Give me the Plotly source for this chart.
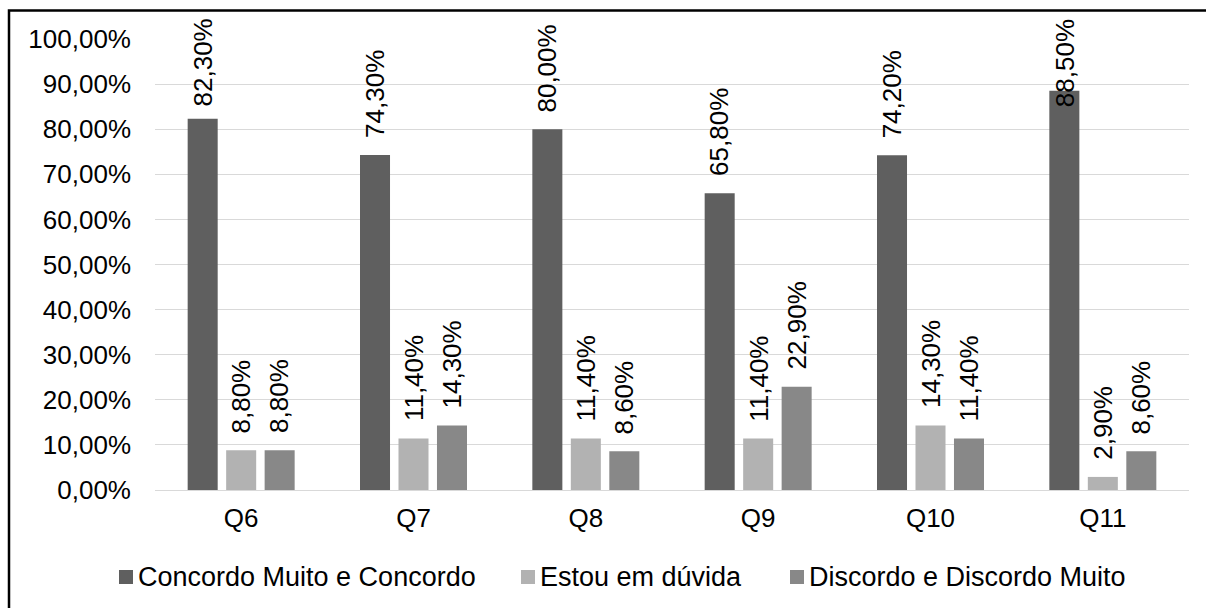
import plotly.graph_objects as go

# ---- data ----
categories = ["Q6", "Q7", "Q8", "Q9", "Q10", "Q11"]
series_names = ["Concordo Muito e Concordo", "Estou em dúvida", "Discordo e Discordo Muito"]
concordo = [82.3, 74.3, 80.0, 65.8, 74.2, 88.5]
duvida = [8.8, 11.4, 11.4, 11.4, 14.3, 2.9]
discordo = [8.8, 14.3, 8.6, 22.9, 11.4, 8.6]
y_ticks = [0, 10, 20, 30, 40, 50, 60, 70, 80, 90, 100]


def pct(v):
    return f"{v:.2f}".replace(".", ",") + "%"


# ---- style / layout ----
COLORS = ["#5f5f5f", "#b2b2b2", "#888888"]
W, H = 1206, 608
ML, MR, MT, MB = 155, 17, 39, 118
PLOT_W = W - ML - MR
PLOT_H = H - MT - MB
BARGAP = 0.33
BARGROUPGAP = 0.22
FONT = "Arial, Liberation Sans, sans-serif"
FS = 26
LEG_FS = 27
LABEL_CAP = 81.2  # labels are kept inside the chart frame
LABEL_GAP = 15
LEG_Y = 577            # legend row centre (px from top)
LEG_SQ = 14            # legend swatch size (px)
LEG_SWATCH_X = [119, 521, 790]  # legend swatch left edges (px)
LEG_TEXT_GAP = 4

series = [concordo, duvida, discordo]


def px_x(p):
    return (p - ML) / PLOT_W


def px_y(p):
    return (H - MB - p) / PLOT_H


fig = go.Figure()
for name, vals, col in zip(series_names, series, COLORS):
    fig.add_trace(go.Bar(x=categories, y=vals, name=name, marker_color=col,
                         marker_line_width=0, showlegend=False))

slot_px = PLOT_W / len(categories) * (1 - BARGAP) / len(series)
annotations = []
for k, vals in enumerate(series):
    off = (k - (len(series) - 1) / 2) * slot_px
    for c, v in zip(categories, vals):
        annotations.append(dict(
            x=c, y=min(v, LABEL_CAP), xref="x", yref="y",
            text=pct(v),
            showarrow=False, textangle=-90, yanchor="bottom", xanchor="center",
            xshift=off, yshift=LABEL_GAP,
            font=dict(family=FONT, size=FS, color="#000000"),
        ))

shapes = []
# legend (swatch + text)
for name, col, sx in zip(series_names, COLORS, LEG_SWATCH_X):
    shapes.append(dict(type="rect", xref="paper", yref="paper",
                       x0=px_x(sx), x1=px_x(sx + LEG_SQ),
                       y0=px_y(LEG_Y + LEG_SQ / 2), y1=px_y(LEG_Y - LEG_SQ / 2),
                       fillcolor=col, line=dict(width=0)))
    annotations.append(dict(x=px_x(sx + LEG_SQ + LEG_TEXT_GAP), y=px_y(LEG_Y),
                            xref="paper", yref="paper", text=name,
                            showarrow=False, xanchor="left", yanchor="middle",
                            borderpad=0,
                            font=dict(family=FONT, size=LEG_FS, color="#000000")))

# outer chart frame (extends beyond the right/bottom edges of the picture)
shapes.append(dict(type="rect", xref="paper", yref="paper",
                   x0=px_x(9), x1=px_x(W + 10), y0=px_y(H + 10), y1=px_y(10.5),
                   line=dict(color="#000000", width=2.5),
                   fillcolor="rgba(0,0,0,0)", layer="above"))

fig.update_layout(
    width=W, height=H, autosize=False,
    margin=dict(l=ML, r=MR, t=MT, b=MB, pad=0),
    paper_bgcolor="white", plot_bgcolor="white",
    barmode="group", bargap=BARGAP, bargroupgap=BARGROUPGAP,
    showlegend=False,
    font=dict(family=FONT, size=FS, color="#000000"),
    xaxis=dict(showgrid=False, showline=True, linecolor="#d9d9d9", linewidth=1.3,
               ticks="", ticklabelstandoff=5,
               tickfont=dict(size=FS, color="#000000")),
    yaxis=dict(range=[0, 100], tickmode="array", tickvals=y_ticks,
               ticktext=[pct(t) for t in y_ticks],
               showgrid=True, gridcolor="#d9d9d9", gridwidth=1.3,
               zeroline=False, showline=False, ticks="",
               ticklabelstandoff=23,
               tickfont=dict(size=FS, color="#000000")),
    annotations=annotations,
    shapes=shapes,
)

fig.write_html("out.html", config={"displayModeBar": False},
               post_script="document.body.style.margin='0';")
